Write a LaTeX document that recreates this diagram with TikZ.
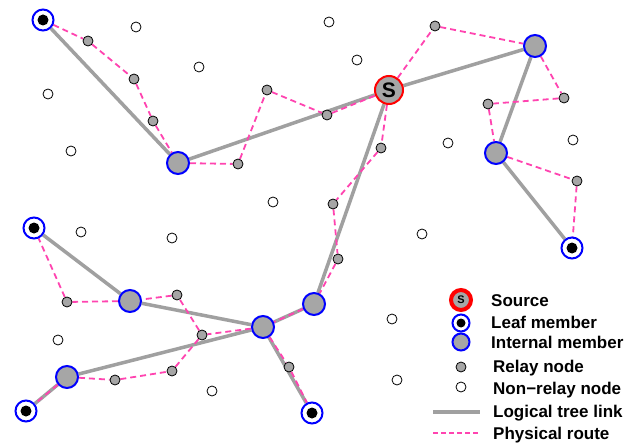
\documentclass[tikz,border=0pt]{standalone}
\usepackage{fontspec}
\setmainfont{Liberation Sans}
\usetikzlibrary{backgrounds}
\definecolor{pinkr}{RGB}{255,68,176}
\definecolor{treegray}{RGB}{160,160,160}
\definecolor{fillgray}{RGB}{166,166,166}
\begin{document}
\begin{tikzpicture}[x=1pt,y=-1pt,
 src/.style={circle,draw=red,line width=2pt,fill=fillgray,minimum size=28pt,inner sep=0,font=\bfseries\fontsize{21}{21}\selectfont},
 lsrc/.style={circle,draw=red,line width=4pt,fill=fillgray,minimum size=20pt,inner sep=0,font=\bfseries\fontsize{11}{11}\selectfont},
 leaf/.style={circle,draw=blue,line width=2pt,fill=white,minimum size=21pt,inner sep=0,path picture={\fill[black] (path picture bounding box.center) circle (5.5pt);}},
 lleaf/.style={circle,draw=blue,line width=2pt,fill=white,minimum size=17pt,inner sep=0,path picture={\fill[black] (path picture bounding box.center) circle (4.5pt);}},
 intm/.style={circle,draw=blue,line width=2pt,fill=fillgray,minimum size=22pt,inner sep=0},
 lintm/.style={circle,draw=blue,line width=2pt,fill=fillgray,minimum size=17pt,inner sep=0},
 relay/.style={circle,draw=black,line width=0.8pt,fill=fillgray,minimum size=10pt,inner sep=0},
 nonrelay/.style={circle,draw=black,line width=0.8pt,fill=white,minimum size=10pt,inner sep=0},
 tree/.style={draw=treegray,line width=3.5pt},
 phys/.style={draw=pinkr,line width=1.8pt,dash pattern=on 6pt off 4pt},
 legtext/.style={anchor=base west,font=\bfseries\fontsize{17}{17}\selectfont,inner sep=0}]
\useasboundingbox (0,0) rectangle (641,444);
% non-relay nodes
\foreach \n/\x/\y in {N1/136/27,N2/199/67,N3/48/94,N4/71/151,N5/273/202,N6/329/22,N7/357/60,N8/448/143,N9/573/140,N10/81/232,N11/172/238,N12/58/340,N13/212/391,N14/422/234,N15/392/319,N16/397/380}
  \node[nonrelay] (\n) at (\x,\y) {};
% relay nodes
\foreach \n/\x/\y in {R1/88/41,R2/134/79,R3/153/121,R4/238/164,R5/267/90,R6/327/115,R7/435/26,R8/564/98,R9/488/104,R10/577/181,R11/381/148,R12/333/204,R13/338/259,R14/177/295,R15/202/335,R16/67/302,R17/115/380,R18/172/371,R19/289/367}
  \node[relay] (\n) at (\x,\y) {};
% leaf members
\foreach \n/\x/\y in {L1/43/20,L2/34/228,L3/26/411,L4/312/413,L5/572/248}
  \node[leaf] (\n) at (\x,\y) {};
% internal members
\foreach \n/\x/\y in {I1/178/163,I2/535/46,I3/496/153,I4/130/301,I5/263/327,I6/314/304,I7/67/377}
  \node[intm] (\n) at (\x,\y) {};
% source
\node[src] (S) at (389,90) {S};
\begin{scope}[on background layer]
 \fill[white] (0,0) rectangle (641,444);
 \draw[tree] (L1) -- (I1);
 \draw[tree] (I1) -- (S);
 \draw[tree] (S) -- (I2);
 \draw[tree] (I2) -- (I3);
 \draw[tree] (I3) -- (L5);
 \draw[tree] (S) -- (I6);
 \draw[tree] (I6) -- (I5);
 \draw[tree] (I5) -- (I4);
 \draw[tree] (I4) -- (L2);
 \draw[tree] (I5) -- (I7);
 \draw[tree] (I7) -- (L3);
 \draw[tree] (I5) -- (L4);
 \draw[phys] (L1) -- (R1) -- (R2) -- (R3) -- (I1);
 \draw[phys] (I1) -- (R4) -- (R5) -- (R6) -- (S);
 \draw[phys] (S) -- (R7) -- (I2);
 \draw[phys] (I2) -- (R8) -- (R9) -- (I3);
 \draw[phys] (I3) -- (R10) -- (L5);
 \draw[phys] (S) -- (R11) -- (R12) -- (R13) -- (I6);
 \draw[phys] (I6) -- (I5);
 \draw[phys] (I5) -- (R15) -- (R14) -- (I4);
 \draw[phys] (I4) -- (R16) -- (L2);
 \draw[phys] (I7) -- (R17) -- (R18) -- (R15);
 \draw[phys] (I5) -- (R19) -- (L4);
 \draw[phys] (I7) -- (L3);
\end{scope}
% legend
\node[lsrc] (gS) at (461,300) {S};
\node[lleaf] (gL) at (461,323) {};
\node[lintm] (gI) at (461,342) {};
\node[relay] (gR) at (461,367) {};
\node[nonrelay] (gN) at (461,387) {};
\coordinate (gT1) at (433,412);
\coordinate (gT2) at (480,412);
\coordinate (gP1) at (433,433);
\coordinate (gP2) at (480,433);
\draw[tree] (gT1) -- (gT2);
\draw[phys,dash pattern=on 5pt off 3pt] (gP1) -- (gP2);
\node[legtext] (tS) at (491,306) {Source};
\node[legtext] (tL) at (491,328) {Leaf member};
\node[legtext] (tI) at (491,348) {Internal member};
\node[legtext] (tR) at (493,372) {Relay node};
\node[legtext] (tN) at (493,394) {Non−relay node};
\node[legtext] (tT) at (493,417) {Logical tree link};
\node[legtext] (tP) at (493,439) {Physical route};
\end{tikzpicture}
\end{document}
